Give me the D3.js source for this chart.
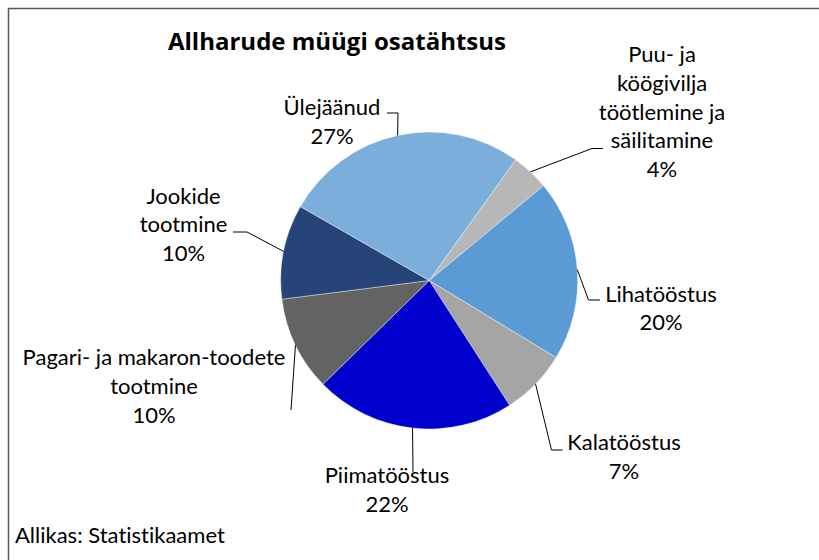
<!DOCTYPE html>
<html>
<head>
<meta charset="utf-8">
<script src="https://cdn.jsdelivr.net/npm/d3@7"></script>
<style>
  body { margin: 0; background: #fff; }
  text { font-family: Lato, "Noto Sans", sans-serif; fill: #000; font-variant-ligatures: none; }
</style>
</head>
<body>
<script>
// slices, clockwise from the top right
var categories = ["Puu- ja\nköögivilja\ntöötlemine ja\nsäilitamine", "Lihatööstus", "Kalatööstus",
                  "Piimatööstus", "Pagari- ja makaron-toodete\ntootmine", "Jookide\ntootmine", "Ülejäänud"];
var shares = [4.1, 19.7, 7.2, 21.8, 10.3, 10.3, 26.6];
var colors = ["#b7b7b7", "#5b9bd5", "#a5a5a5", "#0000cc", "#636363", "#264478", "#7caedc"];

var title = "Allharude müügi osatähtsus",
    source = "Allikas: Statistikaamet";

// label placement (centre x, first baseline) and leader elbows
var labelAt = [[662, 62], [661, 301.5], [624, 450], [387, 483], [154, 365], [183.5, 203.5], [332, 115]];
var leaderTo = [
  [[592, 148.5], [603, 148.5]],
  [[588.5, 300], [600, 300]],
  [[551.5, 450], [562.5, 450]],
  [[413, 472]],
  [[291, 410]],
  [[247, 232], [233, 232]],
  [[398, 113], [387, 113]]
];

var width = 819, height = 560;
var cx = 429.2, cy = 280.5, r = 148.5;
var a0 = 35.6 * Math.PI / 180;
var lineH = 28.8;

var svg = d3.select("body").append("svg")
    .attr("width", width)
    .attr("height", height);

svg.append("rect")
    .attr("x", 8.5).attr("y", 8.5)
    .attr("width", 1000).attr("height", 1000)
    .style("fill", "none")
    .style("stroke", "#595959")
    .style("stroke-width", 1.5);

svg.append("text")
    .attr("x", 337).attr("y", 50)
    .attr("text-anchor", "middle")
    .style("font-family", "'Open Sans', sans-serif")
    .style("font-size", "24px")
    .style("font-weight", "bold")
    .text(title);

var pie = d3.pie().sort(null).startAngle(a0).endAngle(a0 + 2 * Math.PI);
var arcs = pie(shares);
var arc = d3.arc().innerRadius(0).outerRadius(r);
var rim = d3.arc().innerRadius(r).outerRadius(r);

var g = svg.append("g").attr("transform", "translate(" + cx + "," + cy + ")");

g.selectAll("path.slice").data(arcs).enter()
  .append("path")
    .attr("class", "slice")
    .attr("d", arc)
    .style("fill", function(d, i) { return colors[i]; })
    .style("stroke", "#fff")
    .style("stroke-width", 0.4);

var pct = d3.format(".0%");
var line = d3.line();

svg.selectAll("path.leader").data(arcs).enter()
  .append("path")
    .attr("class", "leader")
    .attr("d", function(d, i) {
      var p = rim.centroid(d);
      return line([[p[0] + cx, p[1] + cy]].concat(leaderTo[i]));
    })
    .style("fill", "none")
    .style("stroke", "#000")
    .style("stroke-width", 1);

var labels = svg.selectAll("text.lbl").data(arcs).enter()
  .append("text")
    .attr("class", "lbl")
    .attr("text-anchor", "middle")
    .style("font-size", "22px");

labels.each(function(d, i) {
  var rows = categories[i].split("\n").concat([pct(d.value / 100)]);
  d3.select(this).selectAll("tspan").data(rows).enter()
    .append("tspan")
      .attr("x", labelAt[i][0])
      .attr("y", function(t, k) { return labelAt[i][1] + k * lineH; })
      .text(function(t) { return t; });
});

svg.append("text")
    .attr("x", 15).attr("y", 543)
    .style("font-size", "22px")
    .text(source);
</script>
</body>
</html>
